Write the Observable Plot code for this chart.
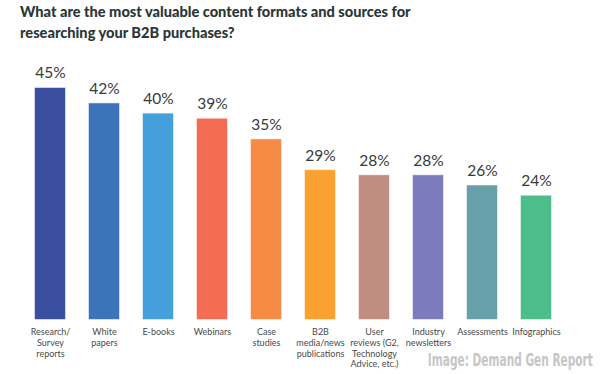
<!DOCTYPE html>
<html>
<head>
<meta charset="utf-8">
<script src="https://cdn.jsdelivr.net/npm/d3@7"></script>
<script src="https://cdn.jsdelivr.net/npm/@observablehq/plot@0.6"></script>
<style>
  html, body { margin: 0; padding: 0; background: #fff; }
  #wrap { position: relative; width: 600px; height: 374px; overflow: hidden; }
  #title { position: absolute; left: 20px; top: 1px; font-family: Lato, sans-serif; font-weight: 900; font-size: 14.6px; line-height: 21px; color: #2b3639; }
  #credit { position: absolute; right: 7px; top: 349px; font-family: "Liberation Sans Narrow", "DejaVu Sans Condensed", sans-serif; font-weight: 700; font-size: 18px; color: #c6c6c6; transform-origin: right center; white-space: nowrap; }
  #chart { position: absolute; left: 0; top: 50px; }
</style>
</head>
<body>
<div id="wrap">
  <div id="title">What are the most valuable content formats and sources for<br>researching your B2B purchases?</div>
  <div id="chart"></div>
  <div id="credit">Image: Demand Gen Report</div>
</div>
<script>
const categories = ["Research/\nSurvey\nreports", "White\npapers", "E-books", "Webinars", "Case\nstudies", "B2B\nmedia/news\npublications", "User\nreviews (G2,\nTechnology\nAdvice, etc.)", "Industry\nnewsletters", "Assessments", "Infographics"];
const values = [45, 42, 40, 39, 35, 29, 28, 28, 26, 24];
const colors = ["#3a4fa0", "#3b74b9", "#43a0da", "#f46c53", "#f78b46", "#faa230", "#bf8d81", "#7b7bbe", "#67a0a8", "#4dbd8a"];

const data = categories.map((c, i) => ({category: c, value: values[i], color: colors[i]}));

const chart = Plot.plot({
  width: 600,
  height: 324,
  marginTop: 0, marginBottom: 0, marginLeft: 0, marginRight: 0,
  x: {domain: categories, range: [19.65, 566.4], paddingInner: 0.45, paddingOuter: 0.225, axis: null},
  y: {domain: [0, 45], range: [269, 38], axis: null},
  style: {fontFamily: "Lato, sans-serif", background: "transparent"},
  marks: [
    Plot.barY(data, {x: "category", y: "value", fill: "color", stroke: "color", strokeOpacity: 0.5}),
    Plot.text(data, {x: "category", y: "value", text: d => d.value + "%", dy: -15, fontSize: 15.5, fontWeight: 400, fill: "#3a3a3a", lineAnchor: "middle"}),
    Plot.text(data, {x: "category", y: 0, text: "category", dy: 8, lineAnchor: "top", fontSize: 9, lineHeight: 1.19, fill: "#4a4a4a"})
  ]
});
document.getElementById("chart").appendChild(chart);
const cr = document.getElementById("credit");
const w = cr.getBoundingClientRect().width;
cr.style.transform = `scaleX(${165 / w})`;
</script>
</body>
</html>
